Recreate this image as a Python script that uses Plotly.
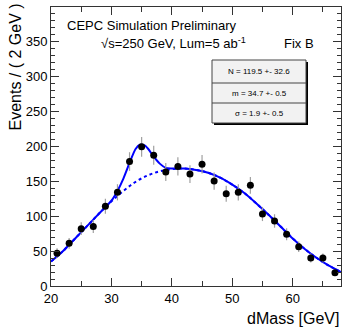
import plotly.graph_objects as go
import numpy as np

# data points (bin centres, events / 2 GeV)
mass = [21, 23, 25, 27, 29, 31, 33, 35, 37, 39, 41, 43, 45, 47, 49, 51, 53, 55, 57, 59, 61, 63, 65, 67]
events = [47, 61, 82, 85, 114, 134, 178, 199, 187, 163, 171, 160, 174, 150, 132, 134, 144, 103, 93, 74, 56, 40, 40, 19]
errors = [float(np.sqrt(v)) for v in events]

# fitted total curve
fit_x = [20, 22, 24, 26, 28, 30, 31, 32, 33, 34, 34.7, 35.5, 36, 37, 38, 39, 40, 42, 44, 46, 48, 50, 52, 54, 56, 58, 60, 62, 64, 66, 68]
fit_y = [35, 50, 68, 86, 104, 122, 136, 154, 176, 196, 202, 201, 197, 185, 175, 169, 168, 168, 166, 162, 155, 145, 133, 118, 102, 85, 68, 53, 40, 29, 20]

# background curve
bkg_x = [20, 22, 24, 26, 28, 30, 32, 34, 36, 38, 40, 42, 44, 46, 48, 50, 52, 54, 56, 58, 60, 62, 64, 66, 68]
bkg_y = [35, 50, 68, 86, 104, 121, 136, 149, 158, 164, 167, 168, 166, 162, 155, 145, 133, 118, 102, 85, 68, 53, 40, 29, 20]

stats = ["N = 119.5 +- 32.6", "m = 34.7 +- 0.5", "\u03c3 = 1.9 +- 0.5"]

font = "Liberation Sans, Arial, sans-serif"

fig = go.Figure()
fig.add_trace(go.Scatter(x=bkg_x, y=bkg_y, mode="lines", line=dict(color="#0000ff", width=2, dash="dot", shape="spline"), hoverinfo="skip"))
fig.add_trace(go.Scatter(x=fit_x, y=fit_y, mode="lines", line=dict(color="#0000ff", width=2, shape="spline", smoothing=0.8), hoverinfo="skip"))
fig.add_trace(go.Scatter(x=mass, y=events, mode="markers",
                         marker=dict(color="black", size=7),
                         error_y=dict(type="data", array=errors, color="#a0a0a0", thickness=1.2, width=0)))

W, H = 343, 327
L, R, T, B = 51, 2, 7, 41
pw, ph = W - L - R, H - T - B

def px(x):
    return (x - L) / pw

def py(y):
    return (H - B - y) / ph

# stats box
bx0, bx1, by0, by1 = 212, 306, 60, 123
shapes = [
    dict(type="rect", xref="paper", yref="paper", x0=px(bx0 + 2), x1=px(bx1 + 2), y0=py(by1 + 2), y1=py(by0 + 2),
         fillcolor="black", line=dict(width=0)),
    dict(type="rect", xref="paper", yref="paper", x0=px(bx0), x1=px(bx1), y0=py(by1), y1=py(by0),
         fillcolor="#f2f2f2", line=dict(color="#444444", width=1)),
]
for yy in [83, 103]:
    shapes.append(dict(type="line", xref="paper", yref="paper", x0=px(bx0), x1=px(bx1), y0=py(yy), y1=py(yy),
                       line=dict(color="#444444", width=1)))

annotations = [
    dict(text="CEPC Simulation Preliminary", x=px(65), y=py(25), xref="paper", yref="paper",
         xanchor="left", yanchor="middle", showarrow=False, font=dict(size=13, color="black", family=font)),
    dict(text="\u221as=250 GeV, Lum=5 ab<sup>-1</sup>", x=px(99), y=py(43), xref="paper", yref="paper",
         xanchor="left", yanchor="middle", showarrow=False, font=dict(size=13, color="black", family=font)),
    dict(text="Fix B", x=px(282), y=py(43), xref="paper", yref="paper",
         xanchor="left", yanchor="middle", showarrow=False, font=dict(size=13, color="black", family=font)),
    dict(text="Events / ( 2 GeV )", x=px(15), y=py(2), xref="paper", yref="paper", textangle=-90,
         xanchor="center", yanchor="top", showarrow=False, font=dict(size=16, color="black", family=font)),
    dict(text="dMass [GeV]", x=px(341), y=py(318), xref="paper", yref="paper",
         xanchor="right", yanchor="middle", showarrow=False, font=dict(size=16, color="black", family=font)),
]
for s, yc in zip(stats, [71.5, 93, 113]):
    annotations.append(dict(text=s, x=px((bx0 + bx1) / 2), y=py(yc), xref="paper", yref="paper",
                            xanchor="center", yanchor="middle", showarrow=False,
                            font=dict(size=8, color="black", family=font)))

fig.update_layout(
    width=W, height=H, margin=dict(l=L, r=R, t=T, b=B),
    paper_bgcolor="white", plot_bgcolor="white", showlegend=False,
    shapes=shapes, annotations=annotations,
    font=dict(family=font, color="black"),
)
fig.update_xaxes(range=[20, 68], tickvals=[20, 30, 40, 50, 60], ticks="inside", ticklen=8, tickcolor="#333",
                 showline=True, linecolor="#333", linewidth=1, mirror="ticks", showgrid=False, zeroline=False,
                 tickfont=dict(size=13, family=font, color="black"),
                 minor=dict(ticks="inside", dtick=5, tick0=20, ticklen=5, tickcolor="#333", showgrid=False))
fig.update_yaxes(range=[0, 399], tickvals=[0, 50, 100, 150, 200, 250, 300, 350], ticks="inside", ticklen=8, tickcolor="#333",
                 showline=True, linecolor="#333", linewidth=1, mirror="ticks", showgrid=False, zeroline=False,
                 tickfont=dict(size=13, family=font, color="black"),
                 minor=dict(ticks="inside", dtick=10, tick0=0, ticklen=4, tickcolor="#333", showgrid=False))

fig.write_html("out.html", config={"displayModeBar": False},
               post_script="document.body.style.margin='0';document.body.style.overflow='hidden';")
